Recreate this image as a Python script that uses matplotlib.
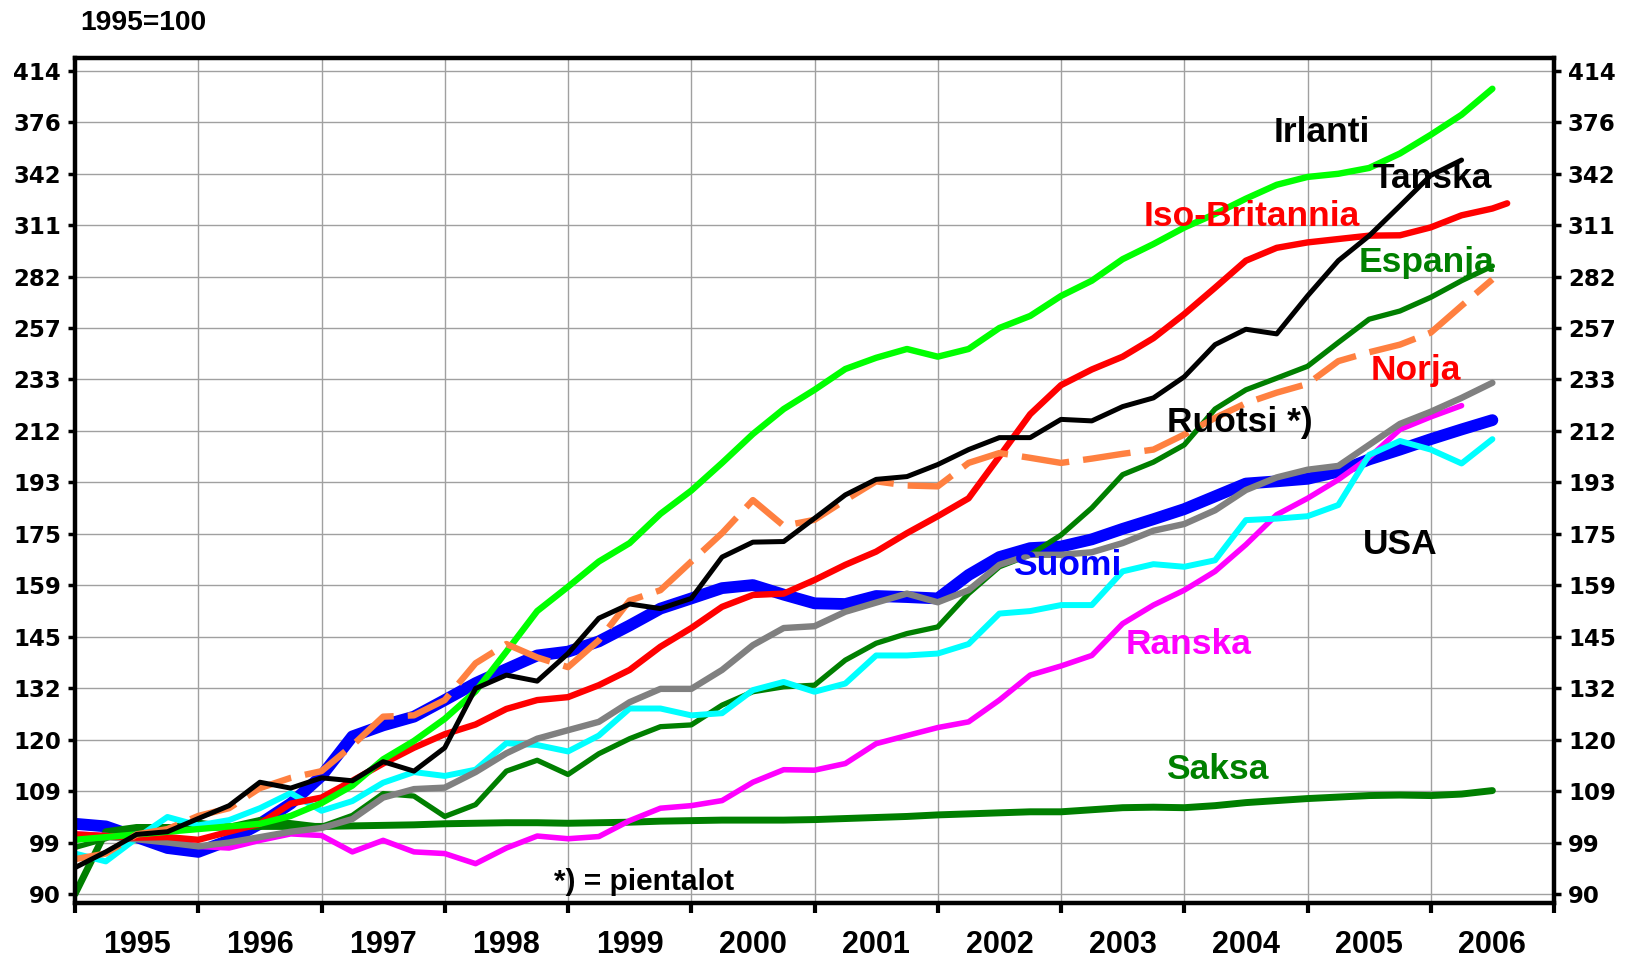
import numpy as np
import matplotlib
matplotlib.use("Agg")
import matplotlib.pyplot as plt
from matplotlib.ticker import FixedLocator, NullFormatter

# ---------------- data (quarterly, first value = 1995 Q1 start) ----------------
START_YEAR = 1995.0
STEP = 0.25

suomi = [102.5, 102, 100, 98, 97.3, 99.4, 102.5, 106.4, 112, 120.5, 123, 125, 128.9, 133, 136.5, 140,
         141, 143.7, 148, 152.7, 155.6, 158.6, 159.5, 156.7, 154.2, 154, 156.3, 156, 155.6, 162.5, 168, 170.8,
         171.3, 173.6, 177, 180.2, 183.6, 188, 192.5, 193.3, 194.2, 196.8, 201.3, 205, 209, 212.8, 216.5]
tanska = [94.5, 97.3, 100.5, 101, 103.5, 106, 110.7, 109.5, 111.6, 111, 115, 113, 118, 131.7, 135, 133.5,
          140.5, 150, 154, 152.7, 155.6, 168, 172.7, 172.9, 180.5, 188.5, 194, 195, 199.4, 205, 209.6, 209.6,
          216.8, 216.2, 222, 225.6, 234.6, 249, 256.2, 254, 272.5, 290.9, 304.6, 322, 340.7, 350.5]
norja = [96, 97, 100.5, 101.5, 104, 105.5, 109.5, 111.6, 113, 118.5, 125, 125.3, 128.9, 138, 143, 139.5,
         137, 144, 155, 158, 166.6, 175.6, 186.7, 178, 180, 186.7, 193.3, 191.8, 191.5, 200, 203.7, 201.9,
         200, 201.6, 203.4, 205, 210.8, 217.4, 223.4, 227.8, 231.5, 241.5, 245.5, 249, 254.6, 267.6, 281]
iso_britannia = [100.5, 100.2, 99.9, 100, 99.5, 101, 102.5, 106.4, 107.6, 111, 114.6, 118, 121, 123.2, 126.8, 128.9,
                 129.6, 132.5, 136.3, 142.3, 147.3, 153.2, 156.6, 157, 161, 165.6, 169.7, 175.6, 181.2, 187.3, 202.4, 218.9,
                 231, 237.8, 243.5, 252, 263.5, 276.7, 290.9, 297.9, 300.9, 302.8, 304.7, 304.9, 309.4, 316.4, 320.4]
iso_britannia_last = [2006.62, 323.5]   # latest (monthly) observation
irlanti = [99.5, 100, 100.5, 101, 101.5, 102, 102.5, 104, 106.5, 110, 115.5, 119.5, 124.5, 131, 141, 152,
           159, 166.6, 172.4, 182, 190, 200, 211, 221, 229, 238, 243, 247, 243.5, 247, 256.8, 262.6,
           272.5, 280.3, 291.7, 300, 309.3, 317.2, 326.3, 334.8, 339.7, 341.7, 345.4, 354.8, 367.3, 381.2, 400]
ruotsi = [99.6, 100, 99.6, 99, 98.3, 99, 100, 101, 101.7, 103.4, 107.6, 109.3, 109.6, 112.8, 116.8, 120,
          121.9, 123.8, 128.4, 131.6, 131.6, 136.3, 142.7, 147.3, 147.8, 151.8, 154.4, 157, 154.5, 158, 165.6, 168.7,
          168.7, 169.5, 172.4, 176.4, 178.6, 183.2, 190.2, 194.7, 197.5, 198.9, 206.8, 215, 219.9, 225.6, 232]
usa = [97, 95.6, 99.8, 103.8, 102.2, 103.2, 105.5, 108.5, 105, 106.9, 110.6, 112.8, 112, 113.3, 119, 118.6,
       117.2, 120.7, 126.9, 126.9, 125.3, 125.8, 131.3, 133.3, 130.9, 132.9, 140, 140, 140.5, 143, 151.3, 152,
       153.7, 153.7, 163.6, 165.8, 165, 167, 179.9, 180.4, 181.2, 185, 203, 208.3, 205, 199.8, 209]
ranska = [100.6, 100.3, 99.8, 99.5, 98.3, 98, 99.4, 100.6, 100.3, 97.3, 99.4, 97.3, 97, 95.2, 98, 100.2,
          99.7, 100.1, 103.1, 105.5, 106, 107, 110.7, 113.3, 113.2, 114.6, 118.9, 120.7, 122.5, 123.8, 128.9, 135,
          137.3, 140, 148.5, 153.7, 158, 163.6, 171.9, 181.7, 187.3, 193.9, 202, 212.8, 217.8, 222.4]
espanja = [98.1, 99.7, 101.8, 101.8, 102.8, 102, 103.3, 102.7, 102, 104.1, 108.4, 107.9, 103.9, 106.2, 113, 115.3,
           112.3, 116.7, 120, 122.7, 123.1, 127.7, 130.9, 132.1, 132.5, 138.8, 143.2, 145.8, 147.6, 157, 165, 168.7,
           175, 184, 195.7, 200.3, 206.8, 221, 229, 234, 239.2, 250, 261, 265, 271.8, 280.3, 288]
saksa = [90, 101, 101.8, 101.8, 101.8, 101.9, 102, 102, 102, 102.1, 102.2, 102.3, 102.5, 102.6, 102.7, 102.7,
         102.6, 102.7, 102.8, 103, 103.1, 103.2, 103.2, 103.2, 103.3, 103.5, 103.7, 103.9, 104.2, 104.4, 104.6, 104.8,
         104.8, 105.2, 105.6, 105.7, 105.6, 106, 106.6, 107, 107.4, 107.7, 108, 108.1, 108, 108.3, 109]

y_tick_labels = ["90", "99", "109", "120", "132", "145", "159", "175", "193", "212",
                 "233", "257", "282", "311", "342", "376", "414"]
years = list(range(1995, 2007))

# ---------------- figure ----------------
fig = plt.figure(figsize=(16.32, 9.58), dpi=100)
ax = fig.add_axes([0.04596, 0.05773, 0.90625, 0.88141])
ax.set_yscale("log")


def qx(vals):
    return START_YEAR + STEP * np.arange(len(vals))


LAB = "Liberation Sans"
RJ = dict(solid_joinstyle="round", solid_capstyle="round")

ax.plot(qx(suomi), suomi, color="#0000FF", lw=8.5, zorder=2, **RJ)
ax.plot(qx(saksa), saksa, color="#007F00", lw=5.0, zorder=3, **RJ)
ax.plot(qx(espanja), espanja, color="#007F00", lw=3.8, zorder=3, **RJ)
ax.plot(qx(ranska), ranska, color="#FF00FF", lw=4.0, zorder=4, **RJ)
ax.plot(qx(usa), usa, color="#00FFFF", lw=4.3, zorder=4, **RJ)
ax.plot(qx(ruotsi), ruotsi, color="#808080", lw=4.6, zorder=5, **RJ)
uk_x = np.append(qx(iso_britannia), iso_britannia_last[0])
uk_y = np.append(iso_britannia, iso_britannia_last[1])
ax.plot(uk_x, uk_y, color="#FF0000", lw=4.6, zorder=5, **RJ)
ax.plot(qx(irlanti), irlanti, color="#00FF00", lw=4.6, zorder=5, **RJ)
ax.plot(qx(norja), norja, color="#FF8040", lw=4.6, zorder=6, dashes=(7.5, 2.2), dash_capstyle="butt")
ax.plot(qx(tanska), tanska, color="#000000", lw=3.6, zorder=7, **RJ)

# ---------------- axes ----------------
ax.set_xlim(1995, 2007)
ax.set_ylim(88.56, 423.2)

ytick_vals = [90 * 1.1 ** k for k in range(len(y_tick_labels))]
ax.yaxis.set_major_locator(FixedLocator(ytick_vals))
ax.yaxis.set_minor_locator(FixedLocator([]))
ax.set_yticklabels(y_tick_labels)
ax.yaxis.set_minor_formatter(NullFormatter())

ax.xaxis.set_major_locator(FixedLocator(years + [2007]))
ax.xaxis.set_minor_locator(FixedLocator([y + 0.5 for y in years]))
ax.set_xticklabels([""] * (len(years) + 1))
ax.set_xticklabels([str(y) for y in years], minor=True)

ax.tick_params(axis="x", which="major", direction="out", length=7, width=3, color="black", bottom=True, top=False)
ax.tick_params(axis="x", which="minor", length=0, pad=19.5, labelsize=22)
ax.tick_params(axis="y", which="major", direction="out", length=5, width=2.5, left=True, right=True,
               labelleft=True, labelright=True, labelsize=16.5, pad=5)
for lab in ax.get_xticklabels(minor=True):
    lab.set_fontfamily(LAB)
    lab.set_fontweight("bold")
for lab in ax.get_yticklabels():
    lab.set_fontfamily("DejaVu Sans")
    lab.set_fontweight("bold")

ax.grid(True, which="major", axis="both", color="#A0A0A0", lw=1.0, zorder=0)
ax.set_axisbelow(True)
for sp in ax.spines.values():
    sp.set_linewidth(3.2)
    sp.set_color("black")
    sp.set_zorder(10)

# ---------------- labels ----------------
labels = [
    ("Irlanti", 2004.722, 362.5, "black"),
    ("Tanska", 2005.528, 332.9, "black"),
    ("Iso-Britannia", 2003.669, 310.3, "#FF0000"),
    ("Espanja", 2005.414, 284.7, "#008000"),
    ("Norja", 2005.511, 233.2, "#FF0000"),
    ("Ruotsi *)", 2003.856, 211.9, "black"),
    ("Suomi", 2002.610, 162.5, "#0000FF"),
    ("USA", 2005.450, 168.9, "black"),
    ("Ranska", 2003.523, 140.4, "#FF00FF"),
    ("Saksa", 2003.856, 111.4, "#008000"),
]
for txt, lx, ly, col in labels:
    ax.text(lx, ly, txt, color=col, fontsize=25.5, fontweight="bold", family=LAB,
            ha="left", va="baseline", zorder=20)

ax.text(1998.886, 90.7, "*) = pientalot", color="black", fontsize=21.5, fontweight="bold",
        family=LAB, ha="left", va="baseline", zorder=20)

fig.text(0.0494, 0.9687, "1995=100", fontsize=20.3, fontweight="bold", family=LAB,
         ha="left", va="baseline")

fig.savefig("out.png", dpi=100)
